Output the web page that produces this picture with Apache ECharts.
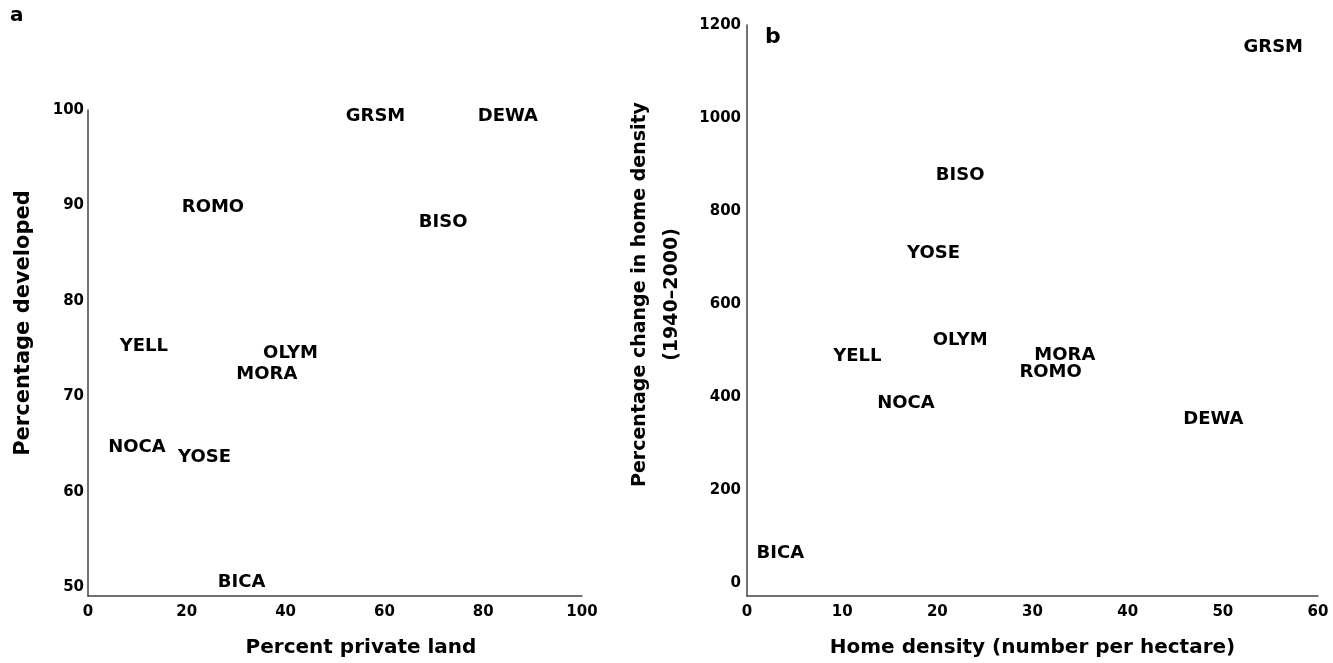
<!DOCTYPE html>
<html>
<head>
<meta charset="utf-8">
<script src="https://cdn.jsdelivr.net/npm/echarts@6/dist/echarts.min.js"></script>
<style>html,body{margin:0;padding:0;background:#fff}#c{width:1333px;height:663px}</style>
</head>
<body>
<div id="c"></div>
<script>
// Panel a: percent private land vs percentage developed
const namesA = ['GRSM','DEWA','BISO','ROMO','YELL','OLYM','MORA','NOCA','YOSE','BICA'];
const privateLand = [58.2, 85.0, 71.9, 25.3, 11.3, 41.0, 36.2, 9.9, 23.6, 31.1];
const developed   = [99.3, 99.3, 88.2, 89.8, 75.2, 74.5, 72.3, 64.6, 63.6, 50.5];
const ticksAX = [0,20,40,60,80,100];
const ticksAY = [50,60,70,80,90,100];

// Panel b: home density vs percentage change in home density
const namesB = ['GRSM','BISO','YOSE','OLYM','YELL','NOCA','BICA','MORA','ROMO','DEWA'];
const homeDensity = [55.3, 22.4, 19.6, 22.4, 11.6, 16.7, 3.5, 33.4, 31.9, 49.0];
const pctChange   = [1151, 876, 708, 522, 487, 386, 64, 489, 453, 352];
const ticksBX = [0,10,20,30,40,50,60];
const ticksBY = [0,200,400,600,800,1000,1200];

const FONT = '"DejaVu Sans", "Liberation Sans", Arial, sans-serif';
const axisLine = {show:true, onZero:false, lineStyle:{color:'#444', width:1.5}};
const tickLabel = {color:'#000', fontFamily:FONT, fontWeight:'bold', fontSize:15, formatter:v=>String(v)};
const nameStyle = {color:'#000', fontFamily:FONT, fontWeight:'bold', fontSize:20};
const labelStyle = {show:true, position:'inside', formatter:'{b}', color:'#000', opacity:1,
  fontFamily:FONT, fontWeight:'bold', fontSize:18, textBorderWidth:0};

function pts(n, xs, ys){ return n.map((s,i)=>({name:s, value:[xs[i], ys[i]]})); }

const chart = echarts.init(document.getElementById('c'), null, {renderer:'canvas'});
chart.setOption({
  animation:false,
  backgroundColor:'#fff',
  grid:[
    {left:88, top:110, width:494, height:486},
    {left:747, top:25, width:571, height:571}
  ],
  xAxis:[
    {gridIndex:0, type:'value', min:0, max:100,
     axisLine:axisLine, axisTick:{show:false}, splitLine:{show:false},
     axisLabel:Object.assign({margin:9, customValues:ticksAX}, tickLabel),
     name:'Percent private land', nameLocation:'middle', nameGap:42,
     nameTextStyle:Object.assign({padding:[0,0,0,52]}, nameStyle)},
    {gridIndex:1, type:'value', min:0, max:60,
     axisLine:axisLine, axisTick:{show:false}, splitLine:{show:false},
     axisLabel:Object.assign({margin:9, customValues:ticksBX}, tickLabel),
     name:'Home density (number per hectare)', nameLocation:'middle', nameGap:42, nameTextStyle:nameStyle}
  ],
  yAxis:[
    {gridIndex:0, type:'value', min:49.06, max:100,
     axisLine:axisLine, axisTick:{show:false}, splitLine:{show:false},
     axisLabel:Object.assign({margin:4, customValues:ticksAY}, tickLabel),
     name:'Percentage developed', nameLocation:'middle', nameRotate:90, nameGap:54,
     nameTextStyle:Object.assign({}, nameStyle, {fontSize:21, padding:[0,0,0,60]})},
    {gridIndex:1, type:'value', min:-28, max:1200,
     axisLine:axisLine, axisTick:{show:false}, splitLine:{show:false},
     axisLabel:Object.assign({margin:6, customValues:ticksBY}, tickLabel),
     name:'Percentage change in home density\n(1940\u20132000)', nameLocation:'middle', nameRotate:90, nameGap:59,
     nameTextStyle:Object.assign({}, nameStyle, {fontSize:19, lineHeight:32, align:'center', padding:[0,0,0,32]})}
  ],
  series:[
    {type:'scatter', xAxisIndex:0, yAxisIndex:0, data:pts(namesA, privateLand, developed),
     symbolSize:0, itemStyle:{color:'#000'}, label:labelStyle},
    {type:'scatter', xAxisIndex:1, yAxisIndex:1, data:pts(namesB, homeDensity, pctChange),
     symbolSize:0, itemStyle:{color:'#000'}, label:labelStyle}
  ],
  graphic:[
    {type:'text', left:10, top:6, style:{text:'a', font:'bold 20px '+FONT, fill:'#000'}},
    {type:'text', left:765, top:26, style:{text:'b', font:'bold 22px '+FONT, fill:'#000'}}
  ]
});
</script>
</body>
</html>
